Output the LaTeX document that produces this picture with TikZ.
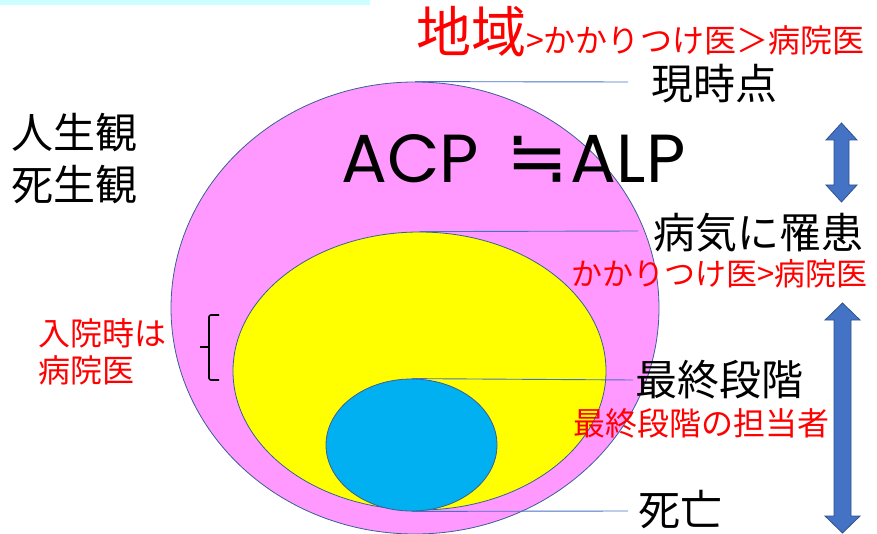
\documentclass[tikz,border=0pt]{standalone}
\usepackage{fontspec}
\setmainfont{Noto Sans CJK JP}
\newfontfamily\popfont{Poppins}
\newfontfamily\symfont{DejaVu Sans}
\usetikzlibrary{shapes.geometric}
\definecolor{pinkfill}{HTML}{FF99FF}
\definecolor{yellowfill}{HTML}{FFFF00}
\definecolor{bluefill}{HTML}{00B0F0}
\definecolor{edgeblue}{HTML}{3A5F94}
\definecolor{linkblue}{HTML}{4472C4}
\definecolor{arrowedge}{HTML}{2F528F}
\definecolor{cyanbar}{HTML}{CCFFFF}
\definecolor{redtext}{HTML}{FF0000}
\tikzset{
  oval/.style={ellipse, draw=edgeblue, line width=0.8pt, inner sep=0pt},
  link/.style={draw=linkblue, line width=0.9pt},
  blacklabel/.style={inner sep=0pt, font=\fontsize{42}{50}\selectfont, text=black},
  redlabel/.style={inner sep=0pt, font=\fontsize{32}{37.5}\selectfont, text=redtext},
  blockarrow/.style={fill=linkblue, draw=arrowedge, line width=0.8pt, line join=miter},
  bracestyle/.style={draw=black, line width=1.6pt, rounded corners=2pt}
}
\begin{document}
\begin{tikzpicture}[x=1pt, y=-1pt]
\useasboundingbox (0,0) rectangle (877,534);
\fill[cyanbar] (0,0) rectangle (370,5);

% ellipses
\node[oval, fill=pinkfill, minimum width=488pt, minimum height=452pt] (pink) at (415,308) {};
\node[oval, fill=yellowfill, minimum width=373pt, minimum height=278pt] (yellow) at (419.5,371) {};
\node[oval, fill=bluefill, minimum width=171pt, minimum height=132pt] (blue) at (411.5,445) {};

% connector ends
\coordinate (e1) at (628,82);
\coordinate (e2) at (638,231);
\coordinate (e3) at (633,380);
\coordinate (e4) at (628,511);
\draw[link] (pink.north) -- (e1);
\draw[link] (yellow.north) -- (e2);
\draw[link] (blue.north) -- (e3);
\draw[link] (blue.south) -- (e4);

% texts
\node[inner sep=0pt, anchor=base west, text=redtext] (region) at (416,53)
  {{\fontsize{55}{55}\selectfont 地域}{\fontsize{32}{35}\selectfont >かかりつけ医＞病院医}};
\node[blacklabel, anchor=west] (now) at (651,84) {現時点};
\node[blacklabel, anchor=north west, align=left, font=\fontsize{42}{52}\selectfont] (view) at (11,113) {人生観\\死生観};
\node[inner sep=0pt, anchor=west, font=\fontsize{68}{68}\selectfont] (acp) at (341,158.5)
  {{\popfont ACP}\hspace{28pt}{\symfont\fontsize{74}{74}\selectfont ≒}\hspace{2pt}{\popfont ALP}};
\node[blacklabel, anchor=west] (ill) at (653,232.5) {病気に罹患};
\node[redlabel, anchor=west, font=\fontsize{31}{36}\selectfont] (gp) at (571,273.5) {かかりつけ医>病院医};
\node[redlabel, anchor=north west, align=left] (hosp) at (38,318) {入院時は\\病院医};
\node[blacklabel, anchor=west] (final) at (635,380) {最終段階};
\node[redlabel, anchor=west] (finalr) at (573,423.5) {最終段階の担当者};
\node[blacklabel, anchor=west] (death) at (638,510) {死亡};

% brace
\draw[bracestyle] (219,315) -- (209,315) -- (209,380) -- (219,380);
\draw[draw=black, line width=1.6pt] (200,347) -- (209,347);

% double block arrows
\filldraw[blockarrow] (841.5,123) -- (857,140) -- (849,140) -- (849,185) -- (857,185) -- (841.5,202) -- (826,185) -- (834,185) -- (834,140) -- (826,140) -- cycle;
\filldraw[blockarrow] (842.5,303) -- (860,320) -- (851,320) -- (851,516) -- (860,516) -- (842.5,533) -- (825,516) -- (834,516) -- (834,320) -- (825,320) -- cycle;
\end{tikzpicture}
\end{document}
